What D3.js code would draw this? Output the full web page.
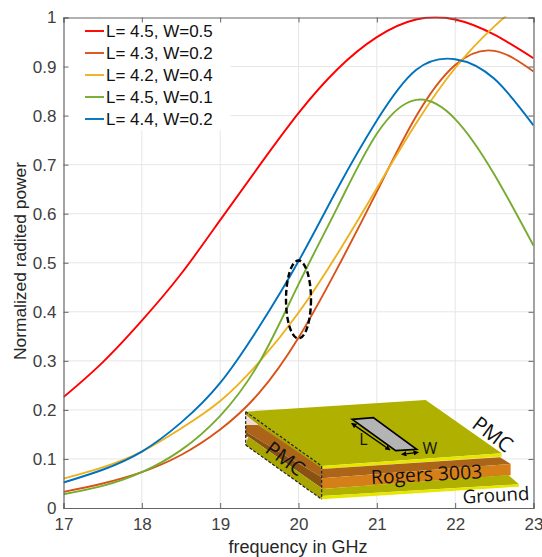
<!DOCTYPE html>
<html><head><meta charset="utf-8">
<script src="https://cdn.jsdelivr.net/npm/d3@7"></script>
<style>html,body{margin:0;padding:0;background:#fff}svg{display:block}text{font-family:"Liberation Sans",Arial,sans-serif}</style>
</head><body><div id="c"></div>
<script>
const freq = [17,17.5,18,18.5,19,19.5,20,20.5,21,21.5,22,22.5,23];
const seriesNames = ["L= 4.5, W=0.5","L= 4.3, W=0.2","L= 4.2, W=0.4","L= 4.5, W=0.1","L= 4.4, W=0.2"];
const seriesColors = ["#ff0000","#d95319","#edb120","#77ac30","#0072bd"];
const red    = [0.226,0.297,0.382,0.477,0.587,0.698,0.805,0.895,0.960,0.996,0.996,0.965,0.917];
const orange = [0.033,0.050,0.073,0.108,0.160,0.235,0.347,0.490,0.645,0.798,0.903,0.932,0.890];
const yellow = [0.060,0.083,0.115,0.162,0.218,0.298,0.398,0.519,0.652,0.784,0.897,0.982,1.050];
const green  = [0.028,0.045,0.073,0.118,0.188,0.297,0.456,0.614,0.763,0.832,0.793,0.680,0.535];
const blue   = [0.052,0.078,0.115,0.174,0.255,0.370,0.503,0.652,0.790,0.893,0.915,0.875,0.780];
const allSeries = [red,orange,yellow,green,blue];
const xTicks = [17,18,19,20,21,22,23];
const yTicks = [0,0.1,0.2,0.3,0.4,0.5,0.6,0.7,0.8,0.9,1];
const xTitle = "frequency in GHz", yTitle = "Normalized radited power";

const W=542,H=557,L=63.5,R=533.5,T=17.5,B=508;
const svg=d3.select("#c").append("svg").attr("width",W).attr("height",H);
const x=d3.scaleLinear().domain([17,23]).range([L,R]);
const y=d3.scaleLinear().domain([0,1]).range([B,T]);
const ax="#666",tc="#404040";

svg.append("g").selectAll("line").data(xTicks.slice(1,-1)).join("line")
 .attr("x1",d=>x(d)).attr("x2",d=>x(d)).attr("y1",T).attr("y2",B).attr("stroke","#e6e6e6");
svg.append("g").selectAll("line").data(yTicks.slice(1,-1)).join("line")
 .attr("y1",d=>y(d)).attr("y2",d=>y(d)).attr("x1",L).attr("x2",R).attr("stroke","#e6e6e6");

// legend background masks grid
svg.append("rect").attr("x",L+1).attr("y",T+1).attr("width",166).attr("height",112).attr("fill","#fff");

svg.append("clipPath").attr("id","pl").append("rect").attr("x",L).attr("y",T-1).attr("width",R-L).attr("height",B-T+1);
const line=d3.line().x((d,i)=>x(freq[i])).y(d=>y(d)).curve(d3.curveNatural);
svg.append("g").attr("clip-path","url(#pl)").selectAll("path").data(allSeries).join("path")
 .attr("d",line).attr("fill","none").attr("stroke",(d,i)=>seriesColors[i]).attr("stroke-width",1.9);

// axes
const xb=d3.axisBottom(x).tickValues(xTicks).tickSize(-5).tickPadding(10).tickFormat(d3.format("d"));
const yl=d3.axisLeft(y).tickValues(yTicks).tickSize(-5).tickPadding(7).tickFormat(d=>d===0?"0":d===1?"1":d3.format(".1f")(d));
const gx=svg.append("g").attr("transform",`translate(0,${B})`).call(xb);
const gy=svg.append("g").attr("transform",`translate(${L},0)`).call(yl);
const gt=svg.append("g").attr("transform",`translate(0,${T})`).call(d3.axisTop(x).tickValues(xTicks).tickSize(-5).tickFormat(""));
const gr=svg.append("g").attr("transform",`translate(${R},0)`).call(d3.axisRight(y).tickValues(yTicks).tickSize(-5).tickFormat(""));
[gx,gy,gt,gr].forEach(g=>{g.selectAll("path").attr("stroke",ax).attr("stroke-width",1.2);g.selectAll("line").attr("stroke",ax);
 g.selectAll("text").attr("fill",tc).style("font-size","17px").style("font-family",'"Liberation Sans",Arial,sans-serif');});

svg.append("text").attr("x",298).attr("y",553).attr("text-anchor","middle").attr("fill","#262626").style("font-size","18px").text(xTitle);
svg.append("text").attr("transform","translate(26,261) rotate(-90)").attr("text-anchor","middle").attr("fill","#262626").style("font-size","17.4px").text(yTitle);

// legend
const rowY=[31,53,75,97,119];
const lg=svg.append("g").selectAll("g").data(seriesNames).join("g").attr("transform",(d,i)=>`translate(0,${rowY[i]})`);
lg.append("line").attr("x1",85).attr("x2",104).attr("stroke",(d,i)=>seriesColors[i]).attr("stroke-width",1.9);
lg.append("text").attr("x",106).attr("y",6).attr("fill","#111").style("font-size","17px").text(d=>d);

// ellipse annotation
svg.append("ellipse").attr("cx",x(20)).attr("cy",y(0.425)).attr("rx",12.5).attr("ry",39)
 .attr("fill","none").attr("stroke","#000").attr("stroke-width",2.4).attr("stroke-dasharray","6 3");

// inset diagram (coordinates are in 3x units of the crop)
const insetPolys=[
 {c:"#b0b000",p:[[47,65],[587,30],[815,190],[275,228]]},
 {c:"#e6e600",p:[[275,228],[815,190],[815,200],[275,237]]},
 {c:"#ab6418",p:[[275,237],[810,202],[842,222],[275,265]]},
 {c:"#d57f18",p:[[275,265],[842,222],[842,256],[275,297]]},
 {c:"#b0b000",p:[[275,297],[835,255],[867,283],[275,318]]},
 {c:"#e6e600",p:[[275,318],[867,283],[867,290],[275,328]]},
 {c:"#a8a400",p:[[47,65],[275,228],[275,240],[85,105],[47,75]]},
 {c:"#ecdcd2",p:[[47,75],[85,105],[47,105]]},
 {c:"#ab6418",p:[[47,105],[85,105],[275,235],[275,262],[47,125]]},
 {c:"#8a5212",p:[[47,125],[275,262],[275,295],[55,140],[47,140]]},
 {c:"#ecdcd2",p:[[47,140],[80,165],[47,165]]},
 {c:"#a8a400",p:[[47,165],[55,140],[275,295],[275,328]]},
 {c:"#b4b4b4",p:[[367,88],[430,83],[560,178],[497,182]],s:"#000",w:5}
];
const g=svg.append("g").attr("transform","translate(230,390) scale(0.3333)");
const lp=d3.line();
g.selectAll("path.p").data(insetPolys).join("path").attr("class","p").attr("d",d=>lp(d.p)+"Z")
 .attr("fill",d=>d.c).attr("stroke",d=>d.s||"none").attr("stroke-width",d=>d.w||0);
const dashes=[[[47,65],[275,228]],[[47,65],[47,165]],[[47,165],[275,328]],[[275,228],[275,328]]];
g.selectAll("path.d").data(dashes).join("path").attr("class","d").attr("d",lp).attr("fill","none")
 .attr("stroke","#222").attr("stroke-width",3.5).attr("stroke-dasharray","9 5");
const arrows=[[[365,100],[480,180]],[[515,193],[565,187]]];
g.append("defs").append("marker").attr("id","ah").attr("viewBox","0 0 10 10").attr("refX",9).attr("refY",5)
 .attr("markerWidth",4).attr("markerHeight",4).attr("orient","auto-start-reverse").append("path").attr("d","M0 0L10 5L0 10Z").attr("fill","#000");
g.selectAll("path.a").data(arrows).join("path").attr("class","a").attr("d",lp).attr("stroke","#000").attr("stroke-width",4).attr("fill","none")
 .attr("marker-start","url(#ah)").attr("marker-end","url(#ah)");
const insetLabels=[
 {t:"L",x:400,y:153,r:0,s:48},{t:"W",x:600,y:180,r:0,s:48},
 {t:"PMC",x:785,y:137,r:37,s:62},{t:"PMC",x:163,y:210,r:37,s:60},
 {t:"Rogers 3003",x:590,y:258,r:-3,s:58},{t:"Ground",x:798,y:320,r:-3,s:56}
];
g.selectAll("text").data(insetLabels).join("text")
 .attr("transform",d=>`translate(${d.x},${d.y}) rotate(${d.r})`).attr("text-anchor","middle").attr("dominant-baseline","middle")
 .attr("fill","#111").style("font-family",'"Open Sans",sans-serif').style("font-size",d=>d.s+"px").text(d=>d.t);
</script></body></html>
